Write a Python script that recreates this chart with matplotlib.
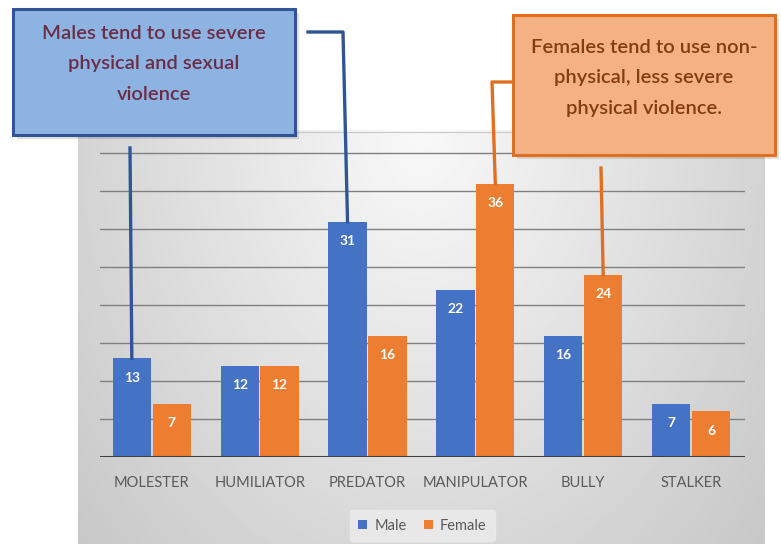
import numpy as np
import matplotlib.pyplot as plt
from matplotlib.patches import Rectangle
from matplotlib.lines import Line2D

plt.rcParams['font.family'] = ['Lato', 'DejaVu Sans']

# Data
categories = ["MOLESTER", "HUMILIATOR", "PREDATOR", "MANIPULATOR", "BULLY", "STALKER"]
male = [13, 12, 31, 22, 16, 7]
female = [7, 12, 16, 36, 24, 6]
male_note = "Males tend to use severe\nphysical and sexual\nviolence"
female_note = "Females tend to use non-\nphysical, less severe\nphysical violence."

BLUE = "#4472C4"
ORANGE = "#ED7D31"
W, H = 781, 544

fig = plt.figure(figsize=(W / 100, H / 100), dpi=100)

# gray gradient panel behind the chart
bg = fig.add_axes([78 / W, 0, (765 - 78) / W, (544 - 130) / H], zorder=0)
gx, gy = np.meshgrid(np.linspace(-1, 1, 300), np.linspace(0, 1, 200))
r = np.sqrt((gx * 0.9) ** 2 + (gy * 0.8) ** 2)
shade = 0.975 - 0.16 * np.clip(r, 0, 1.3)
bg.imshow(shade, cmap="gray", vmin=0, vmax=1, aspect="auto", origin="upper",
          extent=[0, 1, 0, 1])
bg.axis("off")

# main chart
ax = fig.add_axes([100 / W, (544 - 457) / H, (745 - 100) / W, (457 - 132) / H], zorder=1)
ax.patch.set_alpha(0)
x = np.arange(len(categories))
bw = 0.355
off = 0.185
ax.bar(x - off, male, bw, color=BLUE, label="Male", zorder=3)
ax.bar(x + off, female, bw, color=ORANGE, label="Female", zorder=3)
ax.set_xlim(-0.48, 5.5)
ax.set_ylim(0, 42.8)
for v in range(5, 45, 5):
    ax.axhline(v, color="#808080", lw=1.0, zorder=1)
ax.axhline(42.8, color="#c8c8c8", lw=0.8, zorder=1)
ax.axhline(0, color="#404040", lw=2.2, zorder=4)
for s in ax.spines.values():
    s.set_visible(False)
ax.set_yticks([])
ax.set_xticks(x)
ax.set_xticklabels(categories, fontsize=10.5, color="#595959")
ax.tick_params(axis="x", length=0, pad=14)

for i in range(len(categories)):
    ax.annotate(str(male[i]), (x[i] - off, male[i]), xytext=(0, -14), textcoords="offset points",
                ha="center", va="center", color="white", fontsize=10, fontweight="bold", zorder=5)
    ax.annotate(str(female[i]), (x[i] + off, female[i]), xytext=(0, -14), textcoords="offset points",
                ha="center", va="center", color="white", fontsize=10, fontweight="bold", zorder=5)

leg = ax.legend(loc="upper center", bbox_to_anchor=(0.5, -0.14), ncol=2, frameon=True,
                fontsize=10.5, handlelength=0.6, handleheight=0.6, columnspacing=1.2,
                handletextpad=0.5, borderpad=0.6)
leg.get_frame().set_facecolor("#ececec")
leg.get_frame().set_edgecolor("#ececec")
for t in leg.get_texts():
    t.set_color("#595959")

# helpers to place callouts in figure pixels
to_fig = ax.transData + fig.transFigure.inverted()


def fpx(px, py):
    return px / W, 1 - py / H


def box(x0, y0, x1, y1, face, edge, text, tcolor, ty):
    sx, sy = fpx(x0 + 4, y1 + 4)
    fig.patches.append(Rectangle((sx, sy), (x1 - x0) / W, (y1 - y0) / H, transform=fig.transFigure,
                                 facecolor="#000000", alpha=0.12, edgecolor="none", zorder=5))
    bx, by = fpx(x0, y1)
    fig.patches.append(Rectangle((bx, by), (x1 - x0) / W, (y1 - y0) / H, transform=fig.transFigure,
                                 facecolor=face, edgecolor=edge, lw=2.2, zorder=6))
    cx, cy = fpx((x0 + x1) / 2, ty)
    fig.text(cx, cy, text, ha="center", va="center", fontsize=14.5, color=tcolor,
             fontweight="semibold", linespacing=1.95, zorder=7)


def connector(pts_px, bar_x, bar_v, color):
    bx, by = to_fig.transform((bar_x, bar_v))
    xs = [p[0] / W for p in pts_px] + [bx]
    ys = [1 - p[1] / H for p in pts_px] + [by]
    fig.lines.append(Line2D(xs, ys, transform=fig.transFigure, color=color, lw=2.4, zorder=5))


connector([(130, 148)], 0 - off, male[0], "#2F5597")
connector([(308, 32), (343, 32)], 2 - off, male[2], "#2F5597")
connector([(513, 82), (492, 82)], 3 + off, female[3], "#E06F22")
connector([(601, 168)], 4 + off, female[4], "#E06F22")

box(13, 9, 295, 135, "#8DB3E2", "#2F5597", male_note, "#6B2D45", 64)
box(513, 15, 775, 155, "#F4B183", "#E06F22", female_note, "#843C0C", 78)

fig.savefig("out.png", dpi=100)
